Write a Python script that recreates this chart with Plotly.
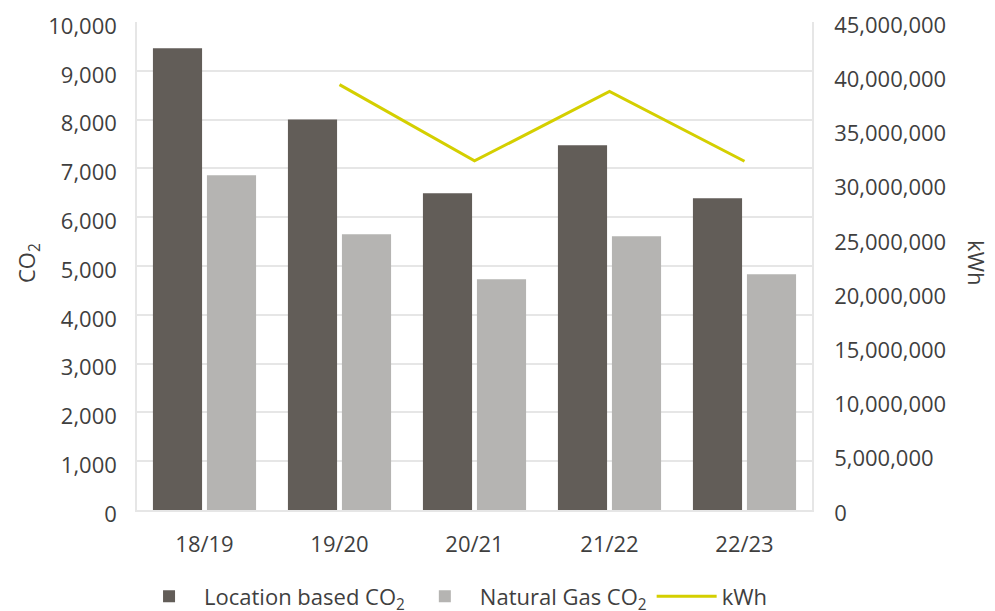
import plotly.graph_objects as go

categories = ["18/19", "19/20", "20/21", "21/22", "22/23"]
location_co2 = [9460, 8000, 6490, 7475, 6390]
natural_gas_co2 = [6860, 5650, 4730, 5610, 4830]
kwh_categories = ["19/20", "20/21", "21/22", "22/23"]
kwh = [39230000, 32190000, 38590000, 32160000]

left_ticks = list(range(0, 10001, 1000))
right_ticks = list(range(0, 45000001, 5000000))

FONT = "Open Sans"
TXT = "#3f3f3f"
GRID = "#e6e6e6"
FS = 22

fig = go.Figure()
fig.add_trace(go.Bar(x=categories, y=location_co2, name="Location based CO<sub>2</sub>",
                     marker=dict(color="#625d58", line=dict(width=0))))
fig.add_trace(go.Bar(x=categories, y=natural_gas_co2, name="Natural Gas CO<sub>2</sub>",
                     marker=dict(color="#b5b4b2", line=dict(width=0))))
fig.add_trace(go.Scatter(x=kwh_categories, y=kwh, name="kWh", mode="lines",
                         line=dict(color="#d4cf00", width=3), yaxis="y2"))

fig.update_layout(
    width=987, height=603,
    margin=dict(l=129, r=183, t=14, b=101, autoexpand=False),
    paper_bgcolor="white", plot_bgcolor="white",
    font=dict(family=FONT, size=FS, color=TXT),
    barmode="group", bargap=0.2, bargroupgap=0.09,
    showlegend=True,
    legend=dict(orientation="h", xref="container", yref="container",
                x=0.1277, xanchor="left", y=0.024, yanchor="middle",
                font=dict(size=FS, color=TXT), itemwidth=60,
                tracegroupgap=0, traceorder="normal"),
    xaxis=dict(type="category", categoryorder="array", categoryarray=categories,
               showgrid=False, showline=True, linecolor=GRID, linewidth=1.5,
               ticks="outside", ticklen=14, tickcolor="rgba(0,0,0,0)",
               tickfont=dict(size=FS, color=TXT), mirror=False),
    yaxis=dict(range=[0, 10000], tickvals=left_ticks, tickformat=",d",
               showgrid=True, gridcolor=GRID, gridwidth=1.5,
               showline=True, linecolor=GRID, linewidth=1.5,
               ticks="outside", ticklen=14, tickcolor="rgba(0,0,0,0)",
               ticklabeloverflow="allow", ticklabelshift=4,
               tickfont=dict(size=FS, color=TXT), zeroline=False),
    yaxis2=dict(range=[0, 45000000], tickvals=right_ticks, tickformat=",d",
                overlaying="y", side="right", showgrid=False,
                showline=True, linecolor=GRID, linewidth=1.5,
                ticks="outside", ticklen=16, tickcolor="rgba(0,0,0,0)",
                ticklabeloverflow="allow", ticklabelshift=3,
                tickfont=dict(size=FS, color=TXT), zeroline=False),
    annotations=[
        dict(text="CO<sub>2</sub>", xref="paper", yref="paper", x=-0.1615, y=0.506,
             textangle=-90, showarrow=False, font=dict(size=FS, color=TXT),
             xanchor="center", yanchor="middle"),
        dict(text="kWh", xref="paper", yref="paper", x=1.2696, y=0.506,
             textangle=90, showarrow=False, font=dict(size=FS, color=TXT),
             xanchor="right", yanchor="middle"),
    ],
)

fig.write_html("out.html")
